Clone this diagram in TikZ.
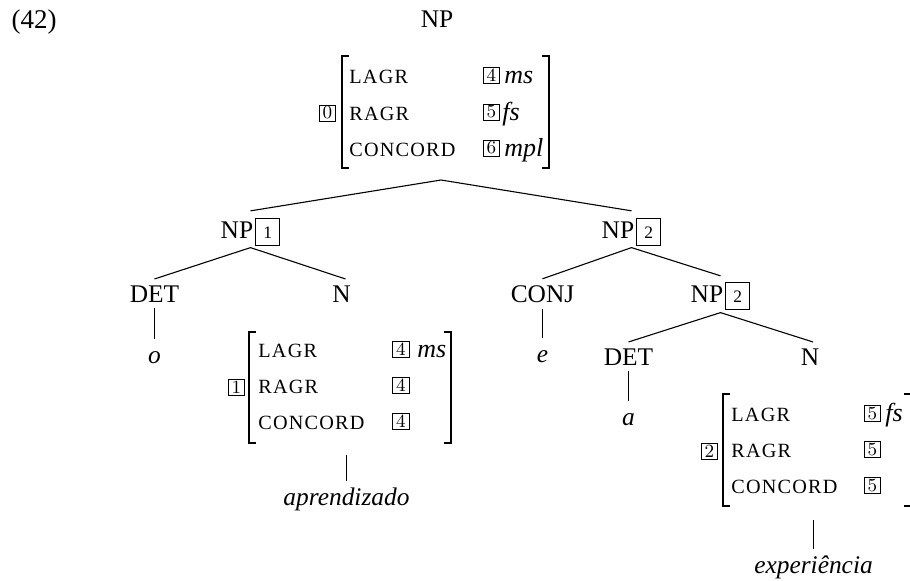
\documentclass[tikz,border=0pt]{standalone}
\usepackage{fontspec}
\setmainfont{Liberation Serif}
\newfontfamily\lmfont{Latin Modern Roman}
\newfontfamily\featfont[LetterSpace=6]{Liberation Serif}
\newcommand{\npbox}[1]{{\setlength{\fboxsep}{3.6pt}\setlength{\fboxrule}{0.5pt}\fbox{\fontsize{8.75}{10}\selectfont #1}}}
\newcommand{\avmbrackets}[1]{%
  \draw[brk] ([xshift=3.5pt]#1.north west) -- (#1.north west) -- (#1.south west) -- ([xshift=3.5pt]#1.south west);
  \draw[brk] ([xshift=-3.5pt]#1.north east) -- (#1.north east) -- (#1.south east) -- ([xshift=-3.5pt]#1.south east);}
\begin{document}
\begin{tikzpicture}[x=0.5pt,y=-0.5pt,
  lbl/.style={font=\fontsize{12.7}{15}\selectfont, inner xsep=0pt, inner ysep=3pt, anchor=base},
  word/.style={font=\fontsize{12.7}{15}\selectfont\itshape, inner xsep=0pt, inner ysep=2pt, text height=10pt, anchor=base},
  feat/.style={font=\featfont\fontsize{10.1}{12}\selectfont, inner sep=0pt, anchor=base west},
  ival/.style={font=\fontsize{13}{15}\selectfont\itshape, inner sep=0pt, anchor=base west},
  bx/.style={draw, line width=0.5pt, minimum width=8.3pt, minimum height=8pt, inner sep=0pt, font=\lmfont\fontsize{9.3}{10}\selectfont},
  frame/.style={inner sep=0pt, outer sep=0pt},
  edge/.style={line width=0.55pt},
  brk/.style={line width=1pt}]
\useasboundingbox (0,0) rectangle (910,580);

% header
\node[lbl, font=\fontsize{13.5}{16}\selectfont] (ex) at (34,28) {(42)};
\node[lbl] (nptop) at (437,27) {NP};

% top AVM
\node[frame, minimum width=103.5pt, minimum height=56pt] (f0) at (445.5,112) {};
\avmbrackets{f0}
\node[bx] (t0) at (327.5,113) {0};
\node[feat] (f0a) at (349,83) {LAGR};
\node[feat] (f0b) at (349,120) {RAGR};
\node[feat] (f0c) at (349,156) {CONCORD};
\node[bx] (b0a) at (491.5,75) {4};
\node[bx] (b0b) at (491.5,112) {5};
\node[bx] (b0c) at (491.5,148) {6};
\node[ival] (v0a) at (504,83) {ms};
\node[ival] (v0b) at (502,120) {fs};
\node[ival] (v0c) at (504,156) {mpl};
\coordinate (apex0) at (441,180);

% second level
\node[lbl] (np1) at (250.5,238) {NP\kern1pt\npbox{1}};
\node[lbl] (np2) at (631.5,238) {NP\kern1pt\npbox{2}};
\draw[edge] ([yshift=0.5pt]np1.north) -- (apex0) -- ([yshift=0.5pt]np2.north);

% NP1 subtree
\node[lbl] (det1) at (154.5,302) {DET};
\node[lbl] (n1) at (341.5,302) {N};
\draw[edge] (det1.north) -- ([yshift=2.5pt]np1.south) -- ([xshift=2pt]n1.north);
\node[word] (o) at (154.5,363) {o};
\draw[edge] (det1.south) -- (o.north);

\node[frame, minimum width=101pt, minimum height=55.5pt] (f1) at (350,387.5) {};
\avmbrackets{f1}
\node[bx] (t1) at (236.5,387.5) {1};
\node[feat] (f1a) at (258,357) {LAGR};
\node[feat] (f1b) at (258,393) {RAGR};
\node[feat] (f1c) at (258,429) {CONCORD};
\node[bx] (b1a) at (401,349) {4};
\node[bx] (b1b) at (401,385) {4};
\node[bx] (b1c) at (401,421) {4};
\node[ival] (v1a) at (417,357) {ms};
\node[word] (aprend) at (346.5,505) {aprendizado};
\draw[edge] ([xshift=-1.75pt,yshift=-6pt]f1.south) -- (aprend.north);

% NP2 subtree
\node[lbl] (conj) at (542.5,302) {CONJ};
\node[lbl] (np2b) at (720.5,302) {NP\kern1pt\npbox{2}};
\draw[edge] (conj.north) -- ([yshift=2.5pt]np2.south) -- (np2b.north);
\node[word] (e) at (542.5,362) {e};
\draw[edge] (conj.south) -- (e.north);

\node[lbl] (det2) at (628.5,365) {DET};
\node[lbl] (n2) at (810,365) {N};
\draw[edge] (det2.north) -- ([yshift=2pt]np2b.south) -- ([xshift=1.5pt]n2.north);
\node[word] (a) at (628.5,425) {a};
\draw[edge] (det2.south) -- (a.north);

\node[frame, minimum width=94pt, minimum height=56pt] (f2) at (817,450) {};
\avmbrackets{f2}
\node[bx] (t2) at (709.5,451.5) {2};
\node[feat] (f2a) at (731,421) {LAGR};
\node[feat] (f2b) at (731,457) {RAGR};
\node[feat] (f2c) at (731,493) {CONCORD};
\node[bx] (b2a) at (872.5,413) {5};
\node[bx] (b2b) at (872.5,449) {5};
\node[bx] (b2c) at (872.5,485) {5};
\node[ival] (v2a) at (885,421) {fs};
\node[word] (exper) at (813.5,573) {experiência};
\draw[edge] ([xshift=-1.75pt,yshift=-7pt]f2.south) -- (exper.north);
\end{tikzpicture}
\end{document}
